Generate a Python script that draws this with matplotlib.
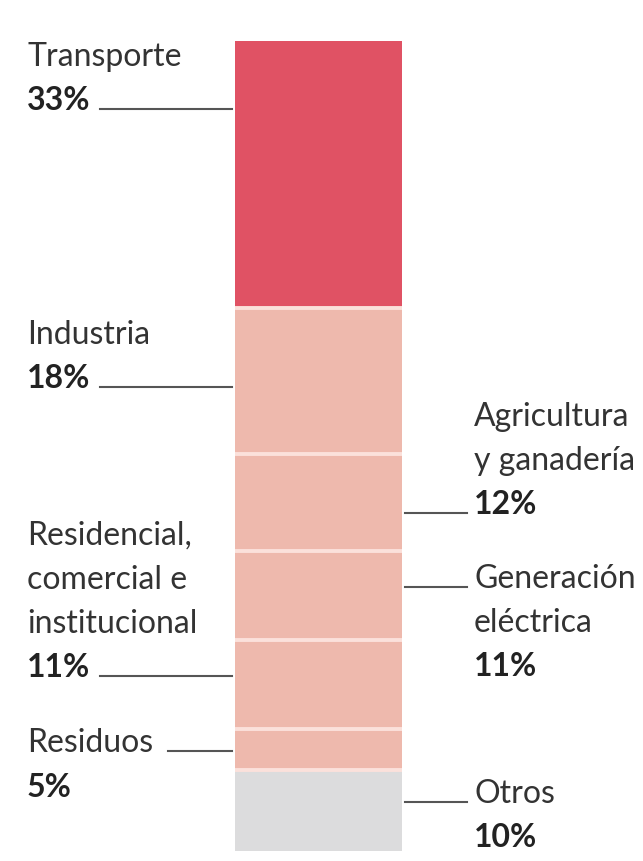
import numpy as np
import matplotlib
matplotlib.use("Agg")
import matplotlib.pyplot as plt

# Datos: emisiones por sector (%), de arriba hacia abajo en la barra
sectores = ["Transporte", "Industria", "Agricultura\ny ganadería", "Generación\neléctrica",
            "Residencial,\ncomercial e\ninstitucional", "Residuos", "Otros"]
porcentajes = [33, 18, 12, 11, 11, 5, 10]
colores = ["#e05264", "#eeb9ad", "#eeb9ad", "#eeb9ad", "#eeb9ad", "#eeb9ad", "#dcdcdd"]

# lado de la etiqueta y posición (px) de la línea guía
lados = ["izq", "izq", "der", "der", "izq", "izq", "der"]
guia_px = [110, 388, 514, 588, 677, 752, 803]

TOP, BOT = 42, 852
esc = (BOT - TOP) / 100.0


def py(p):
    return (p - TOP) / esc


fig = plt.figure(figsize=(6.43, 8.62), dpi=100)
ax = fig.add_axes([0, 0, 1, 1])
ax.set_xlim(0, 643)
ax.set_ylim(py(862), py(0))
ax.axis("off")

fuente = "Lato"
fs = 23
gris = "#333333"
oscuro = "#222222"

inicio = np.concatenate([[0], np.cumsum(porcentajes)[:-1]])
ax.bar(318.5, porcentajes, bottom=inicio, width=167, color=colores, linewidth=0)
# separadores entre segmentos
for b in np.cumsum(porcentajes)[:-1]:
    ax.plot([235, 402], [b, b], color="#fbe1db", lw=2.8, solid_capstyle="butt")

paso = 44  # interlineado en px

for nombre, pct, lado, g in zip(sectores, porcentajes, lados, guia_px):
    lineas = nombre.split("\n")
    if lado == "izq":
        x = 27
        if nombre == "Residuos":
            ax.text(x, py(g), nombre, fontsize=fs, family=fuente, color=gris, va="baseline")
            ax.text(x, py(g + 45), f"{pct}%", fontsize=fs, family=fuente, color=oscuro,
                    fontweight="bold", va="baseline")
            ax.plot([168, 232], [py(g), py(g)], color="#555555", lw=1.5)
        else:
            n = len(lineas)
            for i, l in enumerate(lineas):
                ax.text(x, py(g - paso * (n - i)), l, fontsize=fs, family=fuente,
                        color=gris, va="baseline")
            ax.text(x, py(g), f"{pct}%", fontsize=fs, family=fuente, color=oscuro,
                    fontweight="bold", va="baseline")
            ax.plot([100, 232], [py(g), py(g)], color="#555555", lw=1.5)
    else:
        x = 474
        ax.plot([405, 467], [py(g), py(g)], color="#555555", lw=1.5)
        if nombre.startswith("Agricultura"):
            n = len(lineas)
            for i, l in enumerate(lineas):
                ax.text(x, py(g - paso * (n - i)), l, fontsize=fs, family=fuente,
                        color=gris, va="baseline")
            ax.text(x, py(g), f"{pct}%", fontsize=fs, family=fuente, color=oscuro,
                    fontweight="bold", va="baseline")
        else:
            for i, l in enumerate(lineas):
                ax.text(x, py(g + paso * i), l, fontsize=fs, family=fuente,
                        color=gris, va="baseline")
            ax.text(x, py(g + paso * len(lineas)), f"{pct}%", fontsize=fs, family=fuente,
                    color=oscuro, fontweight="bold", va="baseline")

fig.savefig("out.png", dpi=100)
